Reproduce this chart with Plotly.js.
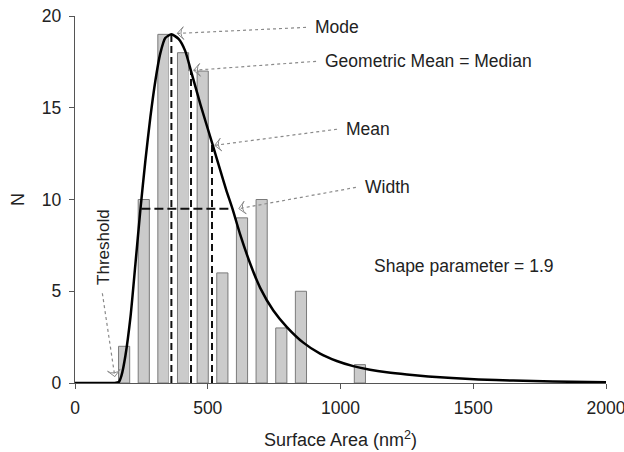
<!DOCTYPE html>
<html>
<head>
<meta charset="utf-8">
<script src="https://cdn.plot.ly/plotly-3.0.1.min.js"></script>
<style>html,body{margin:0;padding:0;background:#fff;}#chart{width:624px;height:452px;}</style>
</head>
<body>
<div id="chart"></div>
<script>
// Histogram bins (surface area, nm^2) and counts
const binCenters = [185, 259, 333, 407, 481, 555, 629, 703, 777, 851, 925, 999, 1073];
const counts     = [2, 10, 19, 18, 17, 6, 9, 10, 3, 5, 0, 0, 1];

// Fitted distribution curve
const curveX = [0, 100, 150, 165, 175, 190, 209, 227, 246, 265, 284, 303, 321, 340, 363, 390, 415, 437, 472, 516, 547, 570, 593, 622, 660, 697, 747, 798, 860, 923, 986, 1048, 1111, 1174, 1250, 1330, 1420, 1520, 1650, 1800, 2000];
const curveY = [0, 0, 0, 0.05, 0.4, 1.5, 3.6, 6.4, 9.4, 12.1, 14.5, 16.5, 17.95, 18.8, 19.0, 18.75, 18.1, 17.0, 15.2, 13.1, 11.6, 10.5, 9.5, 8.1, 6.5, 5.2, 3.95, 3.05, 2.2, 1.6, 1.2, 0.92, 0.72, 0.58, 0.46, 0.36, 0.27, 0.19, 0.13, 0.08, 0.04];

// Statistics markers
const statNames  = ["Mode", "Median", "Mean"];
const statX      = [363, 437, 516];
const statY      = [19.0, 17.0, 13.1];
const widthX     = [250, 593];
const widthY     = [9.5, 9.5];

// Annotation labels (pointer tips and label ends)
const labelTexts = ["Mode", "Geometric Mean = Median", "Mean", "Width", "Threshold"];
const labelTipX  = [385, 447, 526, 617, 150];
const labelTipY  = [19.05, 17.04, 12.95, 9.5, 0.35];
const labelX     = [870, 908, 987, 1058, 103];
const labelY     = [19.38, 17.53, 13.83, 10.66, 4.89];
const arrowAngle = [-93, -94, -97, -100, 171];
const shapeText = "Shape parameter = 1.9";

const FONT = 'Liberation Sans, Arial, sans-serif';
const traces = [];
traces.push({
  type: 'bar', x: binCenters, y: counts, width: 42,
  marker: {color: '#cbcbcb', line: {color: '#7a7a7a', width: counts.map(c => c > 0 ? 1 : 0)}},
  hoverinfo: 'x+y', showlegend: false
});
// vertical stat lines: white underlay + black dashes
statX.forEach((sx, i) => {
  traces.push({type: 'scatter', mode: 'lines', x: [sx, sx], y: [0, statY[i]],
    line: {color: '#ffffff', width: 5}, showlegend: false, hoverinfo: 'skip'});
  traces.push({type: 'scatter', mode: 'lines', x: [sx, sx], y: [0, statY[i]],
    line: {color: '#111111', width: 2, dash: '7px,4px'}, showlegend: false, name: statNames[i]});
});
traces.push({type: 'scatter', mode: 'lines', x: widthX, y: widthY,
  line: {color: '#111111', width: 2, dash: '9px,4px'}, showlegend: false, name: 'Width'});
traces.push({
  type: 'scatter', mode: 'lines', x: curveX, y: curveY,
  line: {color: '#000000', width: 2.5, shape: 'spline', smoothing: 0.6},
  showlegend: false, hoverinfo: 'x+y'
});
// hollow arrowheads at pointer tips
traces.push({
  type: 'scatter', mode: 'markers', x: labelTipX, y: labelTipY,
  marker: {symbol: 'arrow-wide-open', size: 9, angle: arrowAngle, color: '#8a8a8a', line: {color: '#8a8a8a', width: 1}},
  showlegend: false, hoverinfo: 'skip'
});

const shapes = [];
const annotations = [];
labelTexts.forEach((t, i) => {
  shapes.push({type: 'line', xref: 'x', yref: 'y',
    x0: labelX[i], y0: labelY[i], x1: labelTipX[i], y1: labelTipY[i],
    line: {color: '#8a8a8a', width: 1.2, dash: 'dot'}});
  if (t === 'Threshold') {
    annotations.push({x: 108, y: 7.4, xref: 'x', yref: 'y', text: t, textangle: -90,
      showarrow: false, font: {family: FONT, size: 17, color: '#222'}});
  } else {
    annotations.push({x: labelX[i] + 25, y: labelY[i], xref: 'x', yref: 'y', text: t,
      showarrow: false, xanchor: 'left', yanchor: 'middle',
      font: {family: FONT, size: 17.5, color: '#222'}});
  }
});
annotations.push({x: 1118, y: 6.4, xref: 'x', yref: 'y', text: shapeText,
  showarrow: false, xanchor: 'left', yanchor: 'middle',
  font: {family: FONT, size: 17.5, color: '#222'}});

const layout = {
  width: 624, height: 452,
  margin: {l: 74.5, r: 17.5, t: 15.7, b: 69.3},
  paper_bgcolor: '#fff', plot_bgcolor: '#fff',
  font: {family: FONT, size: 17, color: '#222'},
  bargap: 0,
  xaxis: {range: [0, 2000], tickvals: [0, 500, 1000, 1500, 2000], ticks: 'outside', ticklen: 5,
    tickcolor: '#555', showline: true, linecolor: '#555', linewidth: 1.2, showgrid: false, zeroline: false,
    tickfont: {size: 17.5, color: '#222'}, ticklabelstandoff: 4, ticklabeloverflow: 'allow', automargin: false,
    title: {text: 'Surface Area (nm<sup>2</sup>)', font: {size: 18, color: '#222'}, standoff: 16}},
  yaxis: {range: [0, 20], tickvals: [0, 5, 10, 15, 20], ticks: 'outside', ticklen: 5,
    tickcolor: '#555', showline: true, linecolor: '#555', linewidth: 1.2, showgrid: false, zeroline: false,
    tickfont: {size: 17.5, color: '#222'}, ticklabelstandoff: 4, automargin: false,
    title: {text: 'N', font: {size: 18, color: '#222'}, standoff: 12}},
  shapes: shapes, annotations: annotations
};
Plotly.newPlot('chart', traces, layout, {displayModeBar: false, staticPlot: true});
</script>
</body>
</html>
